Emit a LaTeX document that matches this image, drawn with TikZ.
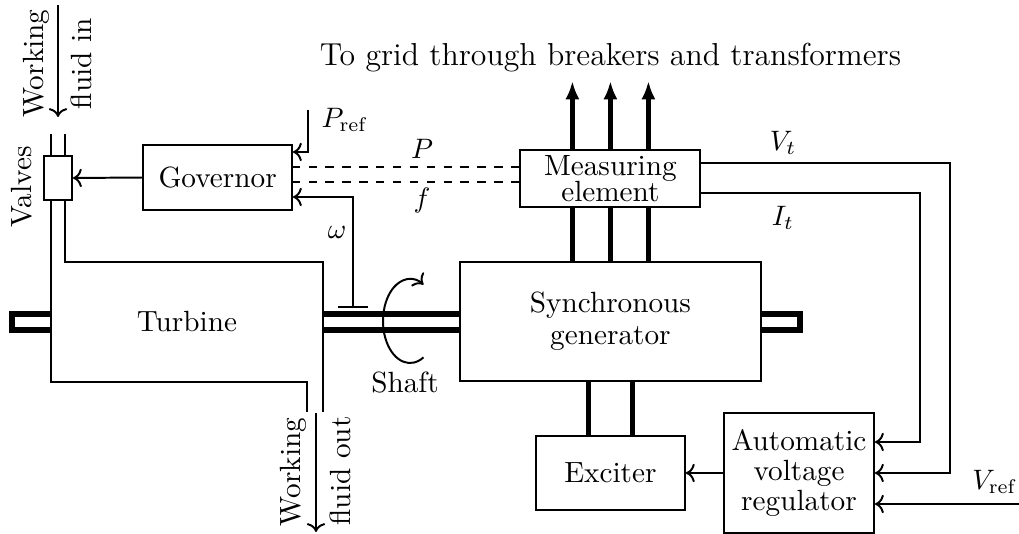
\documentclass[tikz,border=0pt]{standalone}
\usepackage{amsmath}
\usepackage{tikz}
\usetikzlibrary{arrows.meta,positioning,calc}

\begin{document}
\begin{tikzpicture}[
  line width=0.7pt,
  every node/.style={font=\fontsize{10.4}{12.5}\selectfont},
  box/.style={rectangle, draw, fill=white, align=center, inner sep=1pt},
  arr/.style={->},
  bus/.style={line width=1.8pt},
  busarr/.style={-{Latex[length=6.5pt,width=5pt]}, line width=1.8pt},
  shaftline/.style={line width=2.3pt},
  lbl/.style={inner sep=0pt},
]
  \useasboundingbox (0,0) rectangle (12.7375,6.675);
  % shaft, turbine casing
  \draw[shaftline] (0.153,2.553) rectangle (10.0,2.747);
  \fill[white] (0.6375,1.9) rectangle (4.0375,3.4);
  \node[box, minimum width=0.35cm, minimum height=0.55cm] (valve) at (0.725,4.45) {};
  \draw (0.6375,5.0) -- (valve.north -| 0.6375,0); \draw (0.8125,5.0) -- (valve.north -| 0.8125,0);
  \draw (valve.south -| 0.6375,0) -- (0.6375,1.9) -- (3.8375,1.9) -- (3.8375,1.525);
  \draw (valve.south -| 0.8125,0) -- (0.8125,3.4) -- (4.0375,3.4) -- (4.0375,1.525);
  \node (turb) at (2.3375,2.65) {Turbine};
  \node[rotate=90] (valvelbl) at (0.275,4.3375) {Valves};
  % working fluid
  \coordinate (fin) at (0.725,6.6125); \coordinate (fout) at (3.95,1.5125);
  \draw[arr] (fin) -- (0.725,5.2125);
  \node[rotate=90] (finA) at (0.45,5.88) {Working};
  \node[rotate=90] (finB) at (1.0125,5.88) {fluid in};
  \draw[arr] (fout) -- (3.95,0.025);
  \node[rotate=90] (foutA) at (3.6625,0.775) {Working};
  \node[rotate=90] (foutB) at (4.25,0.7875) {fluid out};

  \node[box, minimum width=1.86cm, minimum height=0.81cm] (gov) at (2.72,4.456) {Governor};
  \node[box, minimum width=2.25cm, minimum height=0.7125cm] (meas) at (7.63,4.444) {Measuring\\[-3.3pt]element};
  \node[box, minimum width=3.7625cm, minimum height=1.4875cm] (gen) at (7.63,2.656) {Synchronous\\[-1.1pt]generator};
  \node[box, minimum width=1.8625cm, minimum height=0.925cm] (exc) at (7.63,0.7625) {Exciter};
  \node[box, minimum width=1.875cm, minimum height=1.5cm] (avr) at (9.9875,0.7625) {Automatic\\[-1.8pt]voltage\\[-1.8pt]regulator};

  \draw[arr] (gov.west) -- (valve.east);
  % governor inputs
  \coordinate (pref) at (3.85,5.3); \coordinate (pr) at (0,4.775);
  \coordinate (p) at (0,4.5875); \coordinate (f) at (0,4.4); \coordinate (w) at (0,4.2125);
  \coordinate (tee) at (4.4125,2.8375);
  \draw[arr] (pref) |- (gov.east |- pr);
  \draw[dashed] (meas.west |- p) -- (gov.east |- p);
  \draw[dashed] (meas.west |- f) -- (gov.east |- f);
  \draw[arr] (tee) |- (gov.east |- w);
  \draw ([xshift=-1.875mm]tee) -- ([xshift=1.875mm]tee);
  \node[lbl] (preflbl) at (4.3125,5.175) {$P_{\mathrm{ref}}$};
  \node[lbl] (plbl) at (5.275,4.8125) {$P$};
  \node[lbl] (flbl) at (5.275,4.175) {$f$};
  \node[lbl] (wlbl) at (4.2125,3.775) {$\omega$};

  % shaft rotation
  \coordinate (rot) at (5.125,2.6625);
  \draw[arr] (rot) ++(-60:0.3375cm and 0.525cm) arc[start angle=-60, end angle=-300, x radius=0.3375cm, y radius=0.525cm];
  \node (shaft) at (5.0625,1.8875) {Shaft};

  % power to grid
  \foreach \dx in {-0.475,0,0.475} {
    \draw[bus] ([xshift=\dx cm]gen.north) -- ([xshift=\dx cm]meas.south);
    \draw[busarr] ([xshift=\dx cm]meas.north) -- ++(0,0.85);
  }
  \node[font=\fontsize{11.3}{13}\selectfont] (grid) at (7.63,5.95) {To grid through breakers and transformers};
  \foreach \dx in {-0.275,0.275} \draw[bus] ([xshift=\dx cm]gen.south) -- ([xshift=\dx cm]exc.north);

  % voltage control loop
  \coordinate (vt) at (11.875,4.6375); \coordinate (it) at (11.5,4.2625); \coordinate (vref) at (12.7375,0.375);
  \draw[arr] (meas.east |- vt) -- (vt) |- (avr.east);
  \draw[arr] (meas.east |- it) -- (it) |- ([yshift=3.875mm]avr.east);
  \draw[arr] (vref) -- (avr.east |- vref);
  \draw[arr] (avr.west) -- (exc.east);
  \node[lbl] (vtlbl) at (9.7875,4.89) {$V_t$};
  \node[lbl] (itlbl) at (9.7875,3.95) {$I_t$};
  \node[lbl] (vreflbl) at (12.4375,0.65) {$V_{\mathrm{ref}}$};
\end{tikzpicture}
\end{document}
